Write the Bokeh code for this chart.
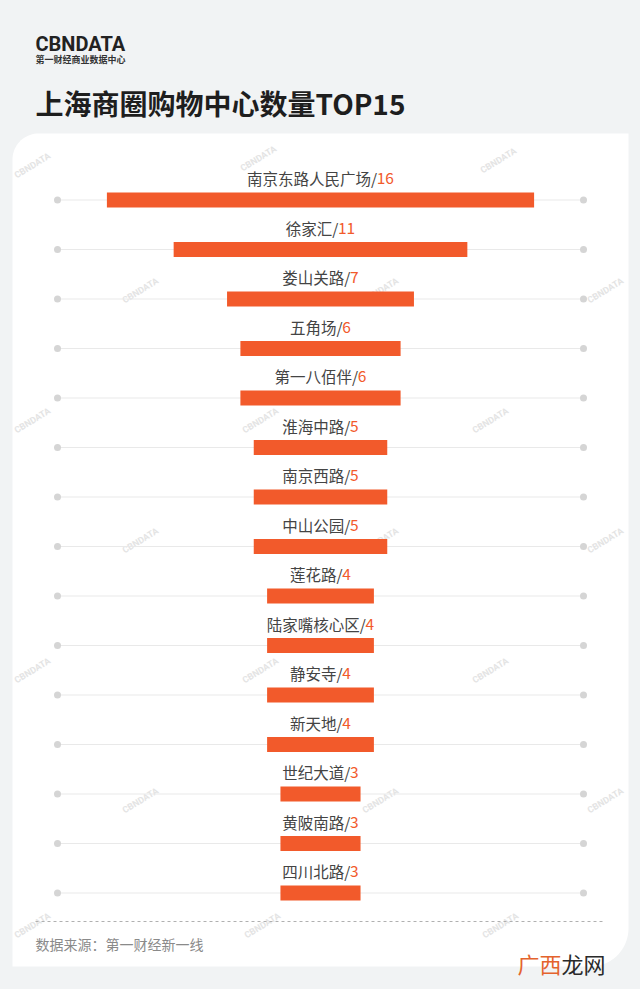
import numpy as np
from bokeh.plotting import figure
from bokeh.models import Range1d
from bokeh.core.properties import value
from bokeh.embed import file_html
from bokeh.resources import INLINE

# ---------------- data ----------------
names = ["南京东路人民广场", "徐家汇", "娄山关路", "五角场", "第一八佰伴",
         "淮海中路", "南京西路", "中山公园", "莲花路", "陆家嘴核心区",
         "静安寺", "新天地", "世纪大道", "黄陂南路", "四川北路"]
counts = [16, 11, 7, 6, 6, 5, 5, 5, 4, 4, 4, 4, 3, 3, 3]
title = "上海商圈购物中心数量TOP15"
source_note = "数据来源：第一财经新一线"
brand = "CBNDATA"
brand_sub = "第一财经商业数据中心"
site_mark = ["广西", "龙网"]

# ---------------- layout helpers (reference pixel -> data units) ----------------
W, H = 640, 989
PXU = 26.7     # pixels per unit of count
ROW = 49.5     # pixels per row
X0, Y0 = 320.0, 199.5


def X(px):
    return (px - X0) / PXU


def Y(py):
    return (py - Y0) / ROW


CJK = value("Noto Sans CJK SC")
ORANGE = "#f25a2b"

p = figure(width=W, height=H, output_backend="svg", toolbar_location=None,
           x_range=Range1d(X(0), X(W)), y_range=Range1d(Y(H), Y(0)),
           x_axis_location=None, y_axis_location=None, min_border=0)
p.grid.visible = False
p.outline_line_color = None
p.background_fill_color = "#f1f3f4"
p.border_fill_color = "#f1f3f4"

# ---------------- white card with rounded corners ----------------
left, top, right, bottom, r1, r2 = 12, 133, 628, 966, 26, 38
t1 = np.linspace(np.pi, 1.5 * np.pi, 20)
t2 = np.linspace(0, 0.5 * np.pi, 20)
cx = list(left + r1 + r1 * np.cos(t1)) + [right] + list(right - r2 + r2 * np.cos(t2)) + [left]
cy = list(top + r1 + r1 * np.sin(t1)) + [top] + list(bottom - r2 + r2 * np.sin(t2)) + [bottom]
p.patch([X(v) for v in cx], [Y(v) for v in cy], fill_color="white", line_color=None)

# ---------------- watermarks ----------------
wm = [(32, 165), (258, 158), (498, 160),
      (140, 290), (380, 290), (605, 290),
      (32, 420), (260, 420), (490, 420),
      (140, 540), (380, 540), (605, 540),
      (32, 670), (260, 670), (490, 670),
      (140, 800), (380, 800), (605, 800),
      (32, 925), (262, 925), (500, 925)]
p.text(x=[X(a) for a, b in wm], y=[Y(b) for a, b in wm], text=[brand] * len(wm),
       angle=0.55, text_font=value("Roboto"), text_font_size="9px",
       text_font_style="bold", text_color="#e4e4e4",
       text_align="center", text_baseline="middle")

# ---------------- row guide lines with end dots ----------------
idx = list(range(len(names)))
p.segment(x0=[X(57)] * len(idx), x1=[X(583)] * len(idx), y0=idx, y1=idx,
          line_color="#e9e9e9", line_width=1)
p.scatter(x=[X(57)] * len(idx) + [X(583)] * len(idx), y=idx + idx, size=7,
          fill_color="#d5d5d5", line_color=None)

# ---------------- bars (centered) ----------------
p.hbar(y=idx, left=[-c / 2 for c in counts], right=[c / 2 for c in counts],
       height=15 / ROW, fill_color=ORANGE, line_color=None)

# ---------------- labels above bars ----------------
FS = 15.5


def est_w(s):
    w = 0.0
    for ch in s:
        if ord(ch) > 0x2e80:
            w += FS
        elif ch == "/":
            w += 0.38 * FS
        else:
            w += 0.56 * FS
    return w


xn, xd, tn, td = [], [], [], []
for n, c in zip(names, counts):
    s1 = n + "/"
    s2 = str(c)
    w1, w2 = est_w(s1), est_w(s2)
    start = X0 - (w1 + w2) / 2
    xn.append(X(start))
    xd.append(X(start + w1))
    tn.append(s1)
    td.append(s2)
ly = [i - 22 / ROW for i in idx]
p.text(x=xn, y=ly, text=tn, text_font=CJK, text_font_size=f"{FS}px",
       text_color="#444444", text_align="left", text_baseline="middle")
p.text(x=xd, y=ly, text=td, text_font=CJK, text_font_size=f"{FS}px",
       text_color=ORANGE, text_align="left", text_baseline="middle")

# ---------------- header ----------------
p.text(x=[X(35)], y=[Y(43)], text=[brand], text_font=value("Roboto"),
       text_font_size="20px", text_font_style="bold", text_color="#222222",
       text_baseline="middle")
p.text(x=[X(35)], y=[Y(59)], text=[brand_sub], text_font=CJK,
       text_font_size="9px", text_font_style="bold", text_color="#333333",
       text_baseline="middle")
p.text(x=[X(35)], y=[Y(102)], text=[title], text_font=CJK,
       text_font_size="28px", text_font_style="bold", text_color="#1e1e1e",
       text_baseline="middle")

# ---------------- footer ----------------
p.segment(x0=[X(35)], x1=[X(605)], y0=[Y(921)], y1=[Y(921)],
          line_color="#b0b0b0", line_width=1, line_dash="3 3")
p.text(x=[X(35)], y=[Y(943)], text=[source_note], text_font=CJK,
       text_font_size="14px", text_color="#8a8a8a", text_baseline="middle")
p.text(x=[X(517)], y=[Y(962)], text=[site_mark[0]], text_font=CJK,
       text_font_size="22px", text_color="#e4632d", text_baseline="middle")
p.text(x=[X(561)], y=[Y(962)], text=[site_mark[1]], text_font=CJK,
       text_font_size="22px", text_color="#2a2a2a", text_baseline="middle")

html = file_html(p, INLINE)
html = html.replace("<head>", "<head><style>body{background:#f1f3f4;}</style>", 1)
open("out.html", "w").write(html)
